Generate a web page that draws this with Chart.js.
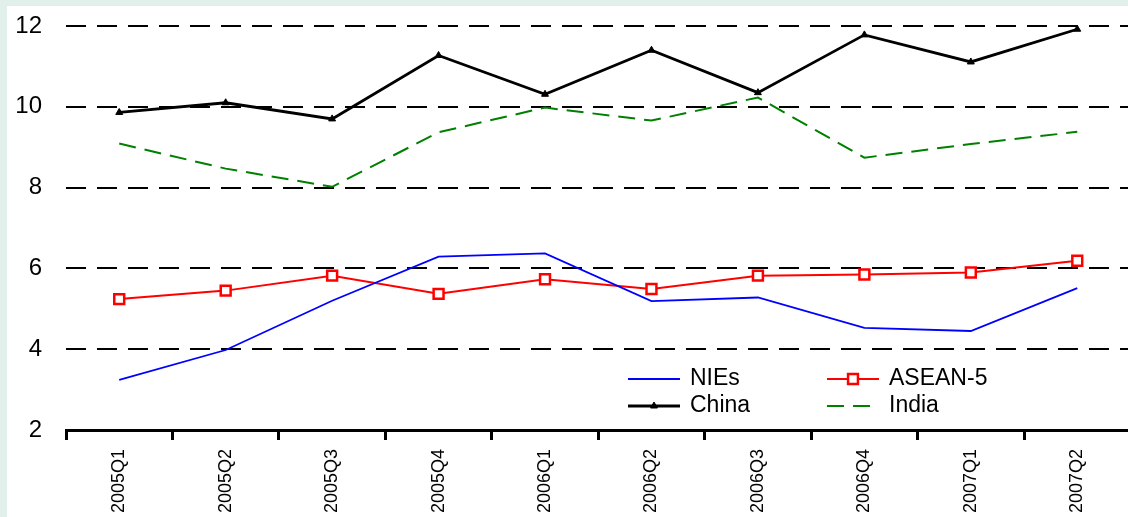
<!DOCTYPE html>
<html>
<head>
<meta charset="utf-8">
<script src="https://cdn.jsdelivr.net/npm/chart.js@4.4.1/dist/chart.umd.min.js"></script>
<style>
  html, body { margin: 0; padding: 0; background: #e1f0ea; overflow: hidden; }
  #panel { position: absolute; left: 7px; top: 6px; width: 1133px; height: 511px; background: #fff; }
</style>
</head>
<body>
<div id="panel"><canvas id="growthChart"></canvas></div>
<script>
// Quarterly GDP growth, % y/y
const quarters = ['2005Q1', '2005Q2', '2005Q3', '2005Q4', '2006Q1', '2006Q2', '2006Q3', '2006Q4', '2007Q1', '2007Q2'];
const niesValues = [3.24, 3.98, 5.2, 6.29, 6.37, 5.19, 5.28, 4.53, 4.45, 5.51];
const aseanValues = [5.24, 5.45, 5.82, 5.37, 5.73, 5.49, 5.82, 5.85, 5.9, 6.19];
const chinaValues = [9.86, 10.1, 9.7, 11.27, 10.31, 11.4, 10.35, 11.78, 11.11, 11.92];
const indiaValues = [9.09, 8.47, 8.02, 9.37, 9.98, 9.66, 10.23, 8.74, 9.08, 9.38];
const yTicks = [2, 4, 6, 8, 10, 12];

const FONT = '"Liberation Sans", Arial, sans-serif';
Chart.defaults.font.family = FONT;
Chart.defaults.color = '#000';

// legend sits inside the plot, two columns x two rows
const LEGEND_COLS = [621, 820];
const LEGEND_ROWS = [373, 400];
const LEGEND_LINE = 52;

const insetLegend = {
  id: 'insetLegend',
  afterDatasetsDraw(chart) {
    const ctx = chart.ctx;
    chart.data.datasets.forEach((ds, i) => {
      const x = LEGEND_COLS[i % 2];
      const y = LEGEND_ROWS[Math.floor(i / 2)];
      ctx.save();
      ctx.strokeStyle = ds.borderColor;
      ctx.lineWidth = ds.borderWidth;
      ctx.setLineDash(ds.borderDash || []);
      ctx.beginPath();
      ctx.moveTo(x, y);
      ctx.lineTo(x + LEGEND_LINE, y);
      ctx.stroke();
      ctx.setLineDash([]);
      if (ds.pointRadius > 0) {
        ctx.fillStyle = ds.pointBackgroundColor;
        ctx.strokeStyle = ds.pointBorderColor;
        ctx.lineWidth = ds.pointBorderWidth;
        Chart.helpers.drawPoint(ctx, {
          pointStyle: ds.pointStyle,
          radius: ds.pointRadius,
          rotation: 0,
          borderWidth: ds.pointBorderWidth,
        }, x + LEGEND_LINE / 2, y);
      }
      ctx.fillStyle = '#000';
      ctx.font = '23px ' + FONT;
      ctx.textBaseline = 'middle';
      ctx.fillText(ds.label, x + 62, y);
      ctx.restore();
    });
  },
};

new Chart(document.getElementById('growthChart'), {
  type: 'line',
  data: {
    labels: quarters,
    datasets: [
      {
        label: 'NIEs',
        data: niesValues,
        borderColor: '#0000ff',
        borderWidth: 1.8,
        pointRadius: 0,
      },
      {
        label: 'ASEAN-5',
        data: aseanValues,
        borderColor: '#ff0000',
        borderWidth: 2,
        pointStyle: 'rect',
        pointRadius: 7,
        pointBorderWidth: 2.5,
        pointBorderColor: '#ff0000',
        pointBackgroundColor: '#ffffff',
      },
      {
        label: 'China',
        data: chinaValues,
        borderColor: '#000000',
        borderWidth: 2.8,
        pointStyle: 'triangle',
        pointRadius: 4,
        pointBorderWidth: 1,
        pointBorderColor: '#000000',
        pointBackgroundColor: '#000000',
      },
      {
        label: 'India',
        data: indiaValues,
        borderColor: '#008000',
        borderWidth: 2,
        borderDash: [17, 9],
        pointRadius: 0,
      },
    ],
  },
  options: {
    responsive: true,
    maintainAspectRatio: false,
    animation: false,
    layout: { padding: { top: 20, right: 0, left: 0, bottom: 0 } },
    plugins: {
      legend: { display: false },
      tooltip: { enabled: false },
    },
    scales: {
      x: {
        offset: true,
        grid: {
          offset: true,
          drawOnChartArea: false,
          drawTicks: true,
          tickLength: 10,
          tickWidth: 3,
          tickColor: '#000',
        },
        border: { display: true, color: '#000', width: 3 },
        ticks: {
          color: '#000',
          font: { size: 18 },
          minRotation: 90,
          maxRotation: 90,
          autoSkip: false,
          padding: 9,
        },
        afterFit(scale) { scale.height = 87; },
      },
      y: {
        min: yTicks[0],
        max: yTicks[yTicks.length - 1],
        afterBuildTicks(scale) { scale.ticks = yTicks.map((v) => ({ value: v })); },
        ticks: { color: '#000', font: { size: 24 }, padding: 24 },
        grid: { drawTicks: false, color: '#000', lineWidth: 2 },
        border: { display: false, dash: [20, 11] },
        afterFit(scale) {
          scale.width = 59;
          scale.paddingTop = 0;
          scale.paddingBottom = 0;
        },
      },
    },
  },
  plugins: [insetLegend],
});
</script>
</body>
</html>
